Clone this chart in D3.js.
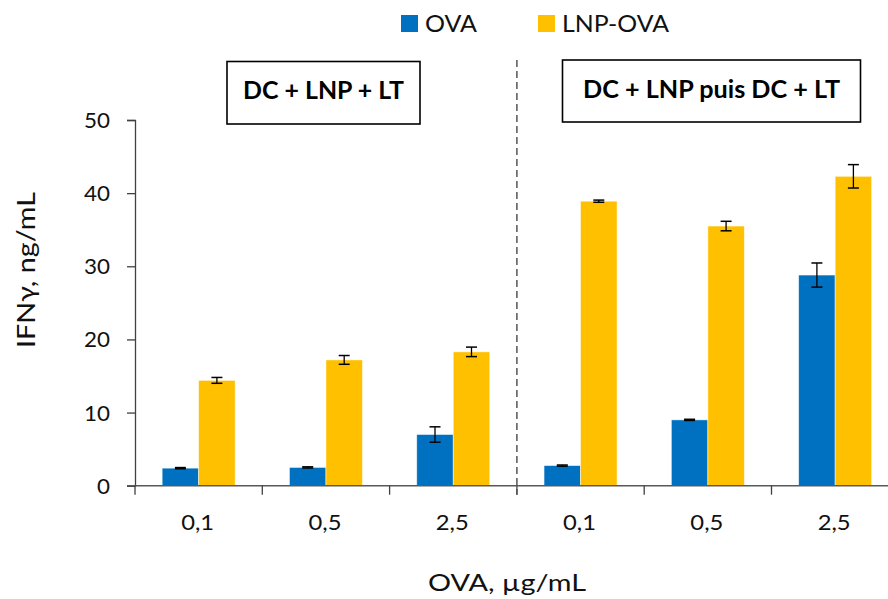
<!DOCTYPE html>
<html>
<head>
<meta charset="utf-8">
<script src="https://cdn.jsdelivr.net/npm/d3@7"></script>
<style>
  html, body { margin: 0; padding: 0; background: #fff; }
  svg { display: block; font-family: Lato, "Open Sans", sans-serif; }
</style>
</head>
<body>
<svg id="chart" width="888" height="599"></svg>
<script>
const categories = ["0,1", "0,5", "2,5", "0,1", "0,5", "2,5"];
const seriesNames = ["OVA", "LNP-OVA"];
const ovaValues = [2.4, 2.5, 7.0, 2.75, 9.0, 28.8];
const ovaErrors = [0.08, 0.08, 1.05, 0.08, 0.08, 1.65];
const lnpValues = [14.4, 17.2, 18.3, 38.9, 35.5, 42.3];
const lnpErrors = [0.4, 0.6, 0.65, 0.15, 0.65, 1.6];
const groupLabels = ["DC + LNP + LT", "DC + LNP puis DC + LT"];
const yTicks = [0, 10, 20, 30, 40, 50];
const colors = ["#0070C0", "#FFC000"];

const svg = d3.select("#chart");
const left = 135, right = 135 + 6 * 127.3;
const y = d3.scaleLinear().domain([0, 50]).range([485.7, 120]);
const x0 = d3.scaleBand().domain(d3.range(categories.length)).range([left, right]).padding(0);
const x1 = d3.scaleBand().domain(seriesNames).range([0, x0.bandwidth()]).paddingInner(0).paddingOuter(0.744);
const color = d3.scaleOrdinal().domain(seriesNames).range(colors);

const data = categories.map((c, i) => ({
  i, cat: c,
  vals: [
    { s: "OVA", v: ovaValues[i], e: ovaErrors[i] },
    { s: "LNP-OVA", v: lnpValues[i], e: lnpErrors[i] }
  ]
}));

// bars
const groups = svg.append("g").selectAll("g").data(data).join("g")
  .attr("transform", d => `translate(${x0(d.i)},0)`);
groups.selectAll("rect").data(d => d.vals).join("rect")
  .attr("x", d => x1(d.s))
  .attr("width", x1.bandwidth())
  .attr("y", d => y(d.v))
  .attr("height", d => y(0) - y(d.v))
  .attr("fill", d => color(d.s))
  .attr("stroke", "rgba(255,255,255,0.6)")
  .attr("stroke-width", 0.8);

// error bars
const eb = groups.selectAll("g.err").data(d => d.vals).join("g").attr("class", "err")
  .attr("transform", d => `translate(${x1(d.s) + x1.bandwidth() / 2},0)`);
eb.append("line").attr("x1", 0).attr("x2", 0)
  .attr("y1", d => y(d.v + d.e)).attr("y2", d => y(d.v - d.e))
  .attr("stroke", "#000").attr("stroke-width", 1.3);
eb.append("line").attr("x1", -5.5).attr("x2", 5.5)
  .attr("y1", d => y(d.v + d.e)).attr("y2", d => y(d.v + d.e))
  .attr("stroke", "#000").attr("stroke-width", 1.5);
eb.append("line").attr("x1", -5.5).attr("x2", 5.5)
  .attr("y1", d => y(d.v - d.e)).attr("y2", d => y(d.v - d.e))
  .attr("stroke", "#000").attr("stroke-width", 1.5);

// y axis
const yAxis = svg.append("g").attr("transform", `translate(${left},0)`)
  .call(d3.axisLeft(y).tickValues(yTicks).tickSize(8).tickPadding(17));
yAxis.select(".domain").attr("stroke", "#404040").attr("stroke-width", 1.3);
yAxis.selectAll(".tick line").attr("stroke", "#404040").attr("stroke-width", 1.3);
yAxis.selectAll(".tick text").attr("font-size", 21).attr("fill", "#111")
  .attr("font-family", "Lato, sans-serif")
  .attr("dy", "0.36em")
  .attr("textLength", d => String(d).length * 13)
  .attr("lengthAdjust", "spacingAndGlyphs");

// x axis line
svg.append("line").attr("x1", 127).attr("x2", 888).attr("y1", y(0)).attr("y2", y(0))
  .attr("stroke", "#595959").attr("stroke-width", 1.5);
// x boundary ticks
const bounds = d3.range(categories.length + 1).map(i => left + i * x0.step());
svg.append("g").selectAll("line").data(bounds).join("line")
  .attr("x1", d => d).attr("x2", d => d)
  .attr("y1", y(0)).attr("y2", y(0) + 9)
  .attr("stroke", "#404040").attr("stroke-width", 1.3);
// category labels
svg.append("g").selectAll("text").data(data).join("text")
  .attr("x", d => x0(d.i) + x0.bandwidth() / 2 - 1)
  .attr("y", 530)
  .attr("text-anchor", "middle")
  .attr("font-size", 21).attr("fill", "#111")
  .attr("textLength", 33).attr("lengthAdjust", "spacingAndGlyphs")
  .text(d => d.cat);

// dashed separator
svg.append("line").attr("x1", bounds[3]).attr("x2", bounds[3])
  .attr("y1", 60).attr("y2", y(0) + 9)
  .attr("stroke", "#555").attr("stroke-width", 1.5)
  .attr("stroke-dasharray", "7,4");

// axis titles
svg.append("text").attr("x", 507).attr("y", 591).attr("text-anchor", "middle")
  .attr("font-size", 24).attr("fill", "#111")
  .attr("textLength", 158).attr("lengthAdjust", "spacingAndGlyphs")
  .text("OVA, µg/mL");
svg.append("text").attr("transform", "translate(35,270) rotate(-90)")
  .attr("text-anchor", "middle").attr("font-size", 25).attr("fill", "#111")
  .attr("textLength", 156).attr("lengthAdjust", "spacingAndGlyphs")
  .text("IFNγ, ng/mL");

// group label boxes
const boxes = [
  { label: groupLabels[0], x: 227, y: 61.5, w: 193, h: 62.5, tw: 161, by: 99 },
  { label: groupLabels[1], x: 562.5, y: 60, w: 298, h: 62, tw: 257, by: 98 }
];
const bx = svg.append("g").selectAll("g").data(boxes).join("g");
bx.append("rect").attr("x", d => d.x).attr("y", d => d.y)
  .attr("width", d => d.w).attr("height", d => d.h)
  .attr("fill", "#fff").attr("stroke", "#000").attr("stroke-width", 1.6);
bx.append("text").attr("x", d => d.x + d.w / 2).attr("y", d => d.by)
  .attr("text-anchor", "middle").attr("font-weight", "bold")
  .attr("font-size", 25).attr("fill", "#000")
  .attr("textLength", d => d.tw).attr("lengthAdjust", "spacingAndGlyphs")
  .text(d => d.label);

// legend
const legendItems = [
  { s: seriesNames[0], x: 401, tw: 52 },
  { s: seriesNames[1], x: 538, tw: 107 }
];
const lg = svg.append("g").selectAll("g").data(legendItems).join("g")
  .attr("transform", d => `translate(${d.x},15)`);
lg.append("rect").attr("width", 17).attr("height", 17).attr("fill", d => color(d.s));
lg.append("text").attr("x", 24).attr("y", 17).attr("font-size", 23).attr("fill", "#111")
  .attr("textLength", d => d.tw).attr("lengthAdjust", "spacingAndGlyphs")
  .text(d => d.s);
</script>
</body>
</html>
